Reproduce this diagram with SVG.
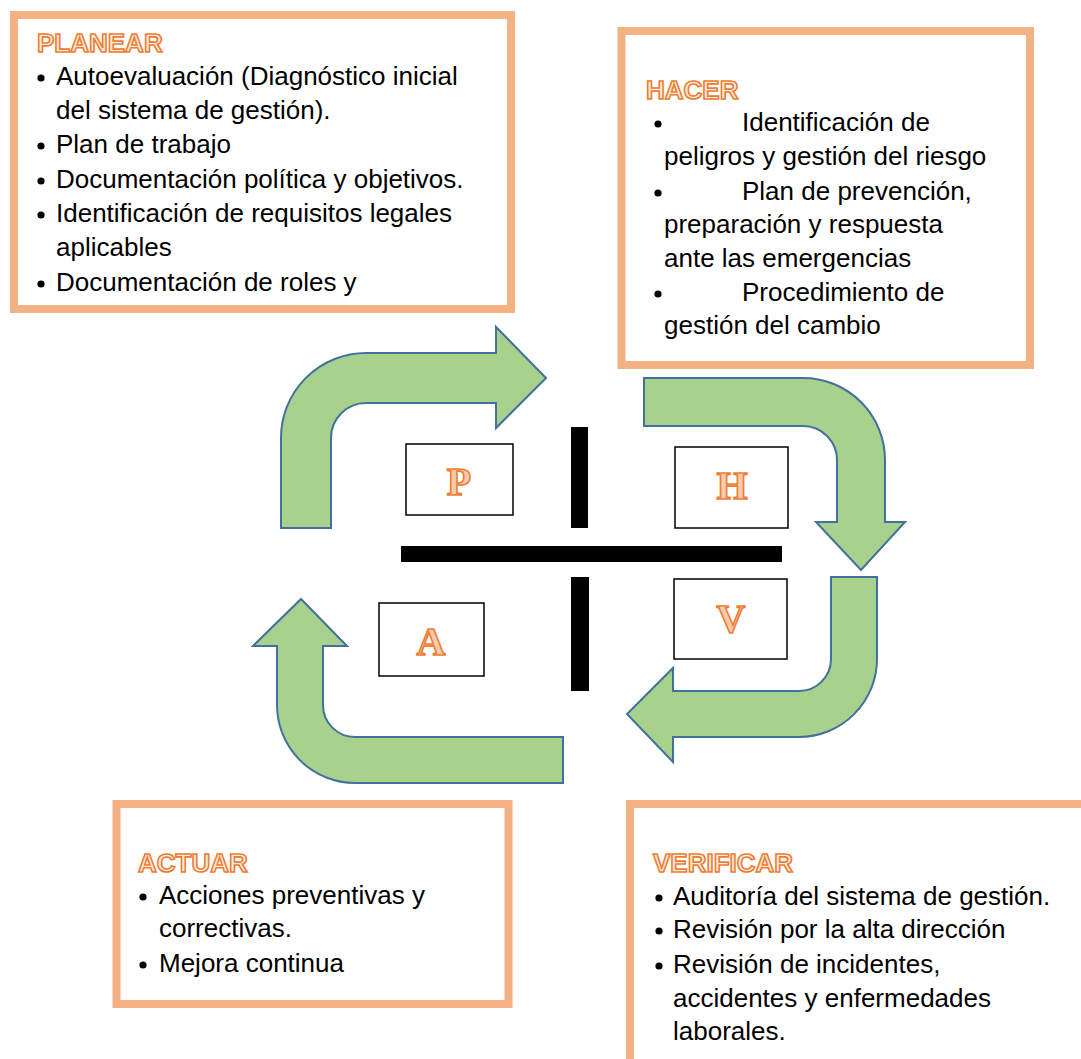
<svg xmlns="http://www.w3.org/2000/svg" width="1081" height="1059" viewBox="0 0 1081 1059">
<style>
.box{fill:#fff;stroke:#F4B183;stroke-width:8}
.title{font-family:"Liberation Sans",Arial,sans-serif;font-weight:bold;font-size:26px;fill:#FDEBDD;stroke:#ED7D31;stroke-width:1.6}
.t{font-family:"Liberation Sans",Arial,sans-serif;font-size:26px;fill:#000}
.arrow{fill:#A9D18E;stroke:#41719C;stroke-width:2;stroke-linejoin:miter}
.lbox{fill:#fff;stroke:#000;stroke-width:1.5}
.letter{font-family:"Liberation Serif","Times New Roman",serif;font-weight:bold;font-size:40px;fill:#F8CBAD;stroke:#ED7D31;stroke-width:1.6;text-anchor:middle}
.bar{fill:#000}
</style>
<defs>
<circle id="b" r="3.6" fill="#000"/>
</defs>
<rect width="1081" height="1059" fill="#fff"/>

<g id="planear">
<rect class="box" x="14" y="15" width="497" height="294"/>
<text class="title" x="37" y="52">PLANEAR</text>
<use href="#b" x="41" y="78"/>
<text class="t" x="56" y="85">Autoevaluación (Diagnóstico inicial</text>
<text class="t" x="56" y="119">del sistema de gestión).</text>
<use href="#b" x="41" y="146"/>
<text class="t" x="56" y="153">Plan de trabajo</text>
<use href="#b" x="41" y="181"/>
<text class="t" x="56" y="188">Documentación política y objetivos.</text>
<use href="#b" x="41" y="215"/>
<text class="t" x="56" y="222">Identificación de requisitos legales</text>
<text class="t" x="56" y="256">aplicables</text>
<use href="#b" x="41" y="284"/>
<text class="t" x="56" y="291">Documentación de roles y</text>
</g>

<g id="hacer">
<rect class="box" x="621.5" y="31" width="408.5" height="334"/>
<text class="title" x="646" y="99">HACER</text>
<use href="#b" x="658" y="124"/>
<text class="t" x="742" y="131">Identificación de</text>
<text class="t" x="664" y="165">peligros y gestión del riesgo</text>
<use href="#b" x="658" y="193"/>
<text class="t" x="742" y="200">Plan de prevención,</text>
<text class="t" x="664" y="233">preparación y respuesta</text>
<text class="t" x="664" y="267">ante las emergencias</text>
<use href="#b" x="658" y="294"/>
<text class="t" x="742" y="301">Procedimiento de</text>
<text class="t" x="664" y="334">gestión del cambio</text>
</g>

<g id="actuar">
<rect class="box" x="116.5" y="804" width="392" height="200"/>
<text class="title" x="138" y="872">ACTUAR</text>
<use href="#b" x="143" y="897"/>
<text class="t" x="159" y="904">Acciones preventivas y</text>
<text class="t" x="159" y="937">correctivas.</text>
<use href="#b" x="143" y="965"/>
<text class="t" x="159" y="972">Mejora continua</text>
</g>

<g id="verificar">
<rect class="box" x="630" y="804" width="470" height="280"/>
<text class="title" x="653" y="872">VERIFICAR</text>
<use href="#b" x="659" y="898"/>
<text class="t" x="673" y="905">Auditoría del sistema de gestión.</text>
<use href="#b" x="659" y="931"/>
<text class="t" x="673" y="938">Revisión por la alta dirección</text>
<use href="#b" x="659" y="966"/>
<text class="t" x="673" y="973">Revisión de incidentes,</text>
<text class="t" x="673" y="1007">accidentes y enfermedades</text>
<text class="t" x="673" y="1040">laborales.</text>
</g>

<g id="connectors">
<path class="arrow" d="M281,528 L281,438 A85,85 0 0 1 366,353 L496,353 L496,327 L546,378 L496,428 L496,403 L366,403 A35,35 0 0 0 331,438 L331,528 Z"/>
<path class="arrow" d="M644,378 L803,378 A82,82 0 0 1 885,460 L885,522 L905,522 L861,570 L816,522 L837,522 L837,460 A34,34 0 0 0 803,426 L644,426 Z"/>
<path class="arrow" d="M831,577 L877,577 L877,659 A78,78 0 0 1 799,737 L673,737 L673,762 L627,714 L673,668 L673,691 L799,691 A32,32 0 0 0 831,659 Z"/>
<path class="arrow" d="M563,737 L563,783 L355,783 A78,78 0 0 1 277,705 L277,646 L253,646 L301,599 L347,646 L323,646 L323,705 A32,32 0 0 0 355,737 Z"/>
</g>

<g id="cross">
<rect class="bar" x="571" y="427" width="17" height="101"/>
<rect class="bar" x="401" y="546" width="381" height="16"/>
<rect class="bar" x="571" y="577" width="18" height="114"/>
</g>

<g id="p">
<rect class="lbox" x="406" y="444" width="107" height="71"/>
<text class="letter" x="459" y="495">P</text>
</g>
<g id="h">
<rect class="lbox" x="675" y="447" width="113" height="81"/>
<text class="letter" x="732" y="499">H</text>
</g>
<g id="a">
<rect class="lbox" x="379" y="603" width="105" height="73"/>
<text class="letter" x="431" y="655">A</text>
</g>
<g id="v">
<rect class="lbox" x="674" y="579" width="113" height="80"/>
<text class="letter" x="731" y="632">V</text>
</g>
</svg>
